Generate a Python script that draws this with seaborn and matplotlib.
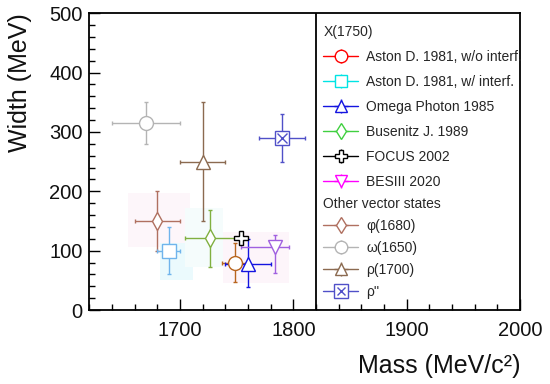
import numpy as np
import seaborn as sns
import matplotlib.pyplot as plt
from matplotlib.ticker import MultipleLocator

# X(1750) measurements
x_labels = ['Aston D. 1981, w/o interf.', 'Aston D. 1981, w/ interf.', 'Omega Photon 1985',
            'Busenitz J. 1989', 'FOCUS 2002', 'BESIII 2020']
x_mass = [1748, 1690, 1760, 1726, 1753.5, 1784]
x_mass_lo = [11, 10, 20, 22, 4, 30]
x_mass_hi = [11, 10, 20, 22, 4, 12]
x_width = [80, 100, 78, 121, 122, 107]
x_width_lo = [33, 40, 40, 48, 10, 44]
x_width_hi = [33, 40, 42, 47, 10, 20]

# other vector states
v_labels = ['φ(1680)', 'ω(1650)', 'ρ(1700)', "ρ''"]
v_mass = [1680, 1670, 1720, 1790]
v_mass_err = [20, 30, 20, 20]
v_width = [150, 315, 250, 290]
v_width_err = [50, 35, 100, 40]

# faint shaded bands behind some points
band_mass_lo = [1654, 1682, 1704, 1738]
band_mass_hi = [1709, 1711, 1738, 1796]
band_width_lo = [106, 51, 72, 45]
band_width_hi = [197, 113, 172, 131]
band_colors = ['#fdf6fa', '#ebfafd', '#f5fcfc', '#fdf5fa']

# styles
x_markers = ['o', 's', '^', 'd', 'P', 'v']
x_colors = ['#b8651e', '#70b4ec', '#1414e0', '#80b040', 'black', '#a060e0']
x_leg_colors = ['#ff0000', '#00e4e4', '#1414e0', '#40d040', 'black', '#ff00ff']
x_ms = [10, 9.5, 10, 9, 10, 10]
v_markers = ['d', 'o', '^', 's']
v_colors = ['#b07060', '#b4b4b4', '#8b6a50', '#5050c8']
v_ms = [9, 10, 10, 10.5]

sns.set_theme(style='ticks')
plt.rcParams['font.family'] = ['Liberation Sans', 'DejaVu Sans']
plt.rcParams['xtick.direction'] = 'in'
plt.rcParams['ytick.direction'] = 'in'

fig = plt.figure(figsize=(5.5, 3.84), dpi=100)
ax = fig.add_axes([0.1627, 0.1927, 0.9455 - 0.1627, 0.9654 - 0.1927])

for lo, hi, wlo, whi, c in zip(band_mass_lo, band_mass_hi, band_width_lo, band_width_hi, band_colors):
    ax.fill_between([lo, hi], wlo, whi, color=c, lw=0, zorder=0)

ekw = dict(mfc='white', lw=1.0, elinewidth=1.0, capsize=1.2, mew=1.0, linestyle='none', zorder=3)

for i in range(len(v_labels)):
    ax.errorbar(v_mass[i], v_width[i], xerr=v_mass_err[i], yerr=v_width_err[i],
                marker=v_markers[i], ms=v_ms[i], color=v_colors[i], **ekw)
ax.plot(v_mass[3], v_width[3], marker='x', ms=7, mew=1.0, color=v_colors[3], zorder=4)

for i in range(len(x_labels)):
    ax.errorbar(x_mass[i], x_width[i],
                xerr=[[x_mass_lo[i]], [x_mass_hi[i]]], yerr=[[x_width_lo[i]], [x_width_hi[i]]],
                marker=x_markers[i], ms=x_ms[i], color=x_colors[i], **ekw)

ax.axvline(1820, color='black', lw=1.3, zorder=5)

ax.set_xlim(1620, 2000)
ax.set_ylim(0, 500)
ax.xaxis.set_major_locator(MultipleLocator(100))
ax.xaxis.set_minor_locator(MultipleLocator(20))
ax.yaxis.set_major_locator(MultipleLocator(100))
ax.yaxis.set_minor_locator(MultipleLocator(20))
ax.tick_params(which='major', length=8, width=1.0, labelsize=14.5, color='black', labelcolor='#111111')
ax.tick_params(which='minor', length=4, width=1.0, color='black')
ax.tick_params(axis='x', which='both', pad=8, top=False)
ax.tick_params(axis='y', which='both', pad=5, right=False)
for s in ax.spines.values():
    s.set_color('black')
    s.set_linewidth(1.3)

ax.set_xlabel('Mass (MeV/c²)', fontsize=18, loc='right', labelpad=10, color='#111111')
ax.set_ylabel('Width (MeV)', fontsize=18, loc='top', labelpad=12, color='#111111')

# legend handles
x_handles = []
for i in range(len(x_labels)):
    h = ax.errorbar([], [], xerr=[], yerr=[], marker=x_markers[i], ms=x_ms[i] * 0.9,
                    color=x_leg_colors[i], mfc='white', lw=1.0, capsize=0, linestyle='-')
    x_handles.append(h)
v_handles = []
for i in range(len(v_labels)):
    h = ax.errorbar([], [], xerr=[], yerr=[], marker=v_markers[i], ms=v_ms[i] * 0.9,
                    color=v_colors[i], mfc='white', lw=1.0, capsize=0, linestyle='-')
    v_handles.append(h)
cross, = ax.plot([], [], marker='x', ms=6, mew=1.0, color=v_colors[3], linestyle='none')
v_handles[3] = (v_handles[3], cross)

lkw = dict(loc='upper left', frameon=False, fontsize=10, title_fontsize=10, alignment='left',
           borderpad=0, borderaxespad=0, handlelength=2.5, handletextpad=0.6)
leg1 = ax.legend(x_handles, x_labels, title='X(1750)', bbox_to_anchor=(0.543, 0.962),
                 labelspacing=0.8, **lkw)
ax.add_artist(leg1)
leg2 = ax.legend(v_handles, v_labels, title='Other vector states', bbox_to_anchor=(0.543, 0.382),
                 labelspacing=0.58, **lkw)

fig.savefig('out.png', dpi=100)
